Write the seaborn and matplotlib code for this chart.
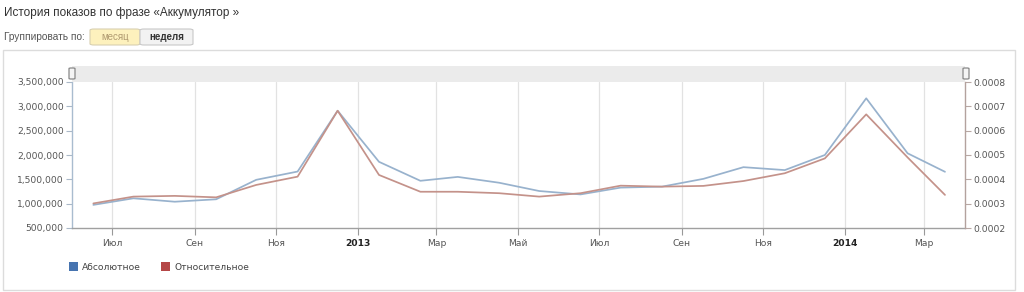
import matplotlib
matplotlib.use("Agg")
import matplotlib.pyplot as plt
import matplotlib.dates as mdates
from matplotlib.patches import Rectangle, FancyBboxPatch, Patch
from matplotlib.ticker import FuncFormatter, FixedLocator
import seaborn as sns
import pandas as pd

# ---- data ----
months = ["2012-06", "2012-07", "2012-08", "2012-09", "2012-10", "2012-11", "2012-12",
          "2013-01", "2013-02", "2013-03", "2013-04", "2013-05", "2013-06", "2013-07",
          "2013-08", "2013-09", "2013-10", "2013-11", "2013-12", "2014-01", "2014-02", "2014-03"]
absolute = [975000, 1110000, 1040000, 1090000, 1490000, 1660000, 2910000,
            1860000, 1470000, 1550000, 1430000, 1260000, 1190000, 1330000,
            1350000, 1510000, 1750000, 1690000, 2000000, 3165000, 2035000, 1655000]
relative = [0.000301, 0.000329, 0.000332, 0.000326, 0.000377, 0.000411, 0.000682,
            0.000418, 0.000349, 0.000349, 0.000343, 0.000329, 0.000343, 0.000374,
            0.000370, 0.000373, 0.000393, 0.000425, 0.000486, 0.000667, 0.000490, 0.000336]
tick_dates = ["2012-07-01", "2012-09-01", "2012-11-01", "2013-01-01", "2013-03-01", "2013-05-01",
              "2013-07-01", "2013-09-01", "2013-11-01", "2014-01-01", "2014-03-01"]
tick_labels = ["Июл", "Сен", "Ноя", "2013", "Мар", "Май", "Июл", "Сен", "Ноя", "2014", "Мар"]
left_ticks = [500000, 1000000, 1500000, 2000000, 2500000, 3000000, 3500000]
right_ticks = [0.0002, 0.0003, 0.0004, 0.0005, 0.0006, 0.0007, 0.0008]
series_names = ["Абсолютное", "Относительное"]
title = "История показов по фразе «Аккумулятор »"

sns.set_theme(style="white")
plt.rcParams["font.family"] = ["DejaVu Sans"]

df = pd.DataFrame({"date": pd.to_datetime(months) + pd.Timedelta(days=16),
                   "abs": absolute, "rel": relative})

W, H = 1024, 292
fig = plt.figure(figsize=(W / 100, H / 100), dpi=100)
fig.patch.set_facecolor("white")

def fx(px):
    return px / W

def fy(py):
    return 1 - py / H

# outer frame
fig.patches.append(Rectangle((fx(3), fy(290)), fx(1015) - fx(3), fy(50) - fy(290),
                             transform=fig.transFigure, fill=False, edgecolor="#dcdcdc", lw=1))

# header texts
fig.text(fx(4), fy(13), title, fontsize=8.5, color="#333333", va="center", ha="left",
         family=["Liberation Sans", "DejaVu Sans"])
fig.text(fx(4), fy(37), "Группировать по:", fontsize=7.3, color="#555555", va="center", ha="left",
         family=["Liberation Sans", "DejaVu Sans"])
# buttons
fig.patches.append(FancyBboxPatch((fx(90), fy(45)), fx(50), fy(29) - fy(45),
                                  boxstyle="round,pad=0,rounding_size=0.004",
                                  transform=fig.transFigure, facecolor="#fdf1bd",
                                  edgecolor="#d8d0b0", lw=0.8))
fig.patches.append(FancyBboxPatch((fx(140), fy(45)), fx(53), fy(29) - fy(45),
                                  boxstyle="round,pad=0,rounding_size=0.004",
                                  transform=fig.transFigure, facecolor="#f2f2f2",
                                  edgecolor="#c8c8c8", lw=0.8))
fig.text(fx(115), fy(37), "месяц", fontsize=7, color="#b09a70", ha="center", va="center",
         family=["Liberation Sans", "DejaVu Sans"])
fig.text(fx(166.5), fy(37), "неделя", fontsize=7, color="#333333", ha="center", va="center",
         weight="bold", family=["Liberation Sans", "DejaVu Sans"])

# navigator bar
fig.patches.append(Rectangle((fx(72), fy(82)), fx(965) - fx(72), fy(66) - fy(82),
                             transform=fig.transFigure, facecolor="#ebebeb", edgecolor="none"))
for hx in (72, 966):
    fig.patches.append(FancyBboxPatch((fx(hx - 3), fy(79)), fx(6), fy(68) - fy(79),
                                      boxstyle="round,pad=0,rounding_size=0.002",
                                      transform=fig.transFigure, facecolor="#f4f4f4",
                                      edgecolor="#888888", lw=0.9, zorder=5))

ax = fig.add_axes([fx(72), fy(228), fx(965) - fx(72), fy(82) - fy(228)])
ax2 = ax.twinx()

sns.lineplot(data=df, x="date", y="abs", ax=ax, color="#98b2cd", lw=1.25)
sns.lineplot(data=df, x="date", y="rel", ax=ax2, color="#c4928a", lw=1.25)

ax.set_xlim(pd.Timestamp("2012-06-01"), pd.Timestamp("2014-04-01"))
ax.set_ylim(left_ticks[0], left_ticks[-1])
ax2.set_ylim(right_ticks[0], right_ticks[-1])

ticks = mdates.date2num(pd.to_datetime(tick_dates))
ax.xaxis.set_major_locator(FixedLocator(ticks))
ax.set_xticklabels(tick_labels)
for lbl in ax.get_xticklabels():
    if lbl.get_text().isdigit():
        lbl.set_fontweight("bold")
        lbl.set_color("#222222")
    else:
        lbl.set_color("#555555")
ax.set_yticks(left_ticks)
ax.yaxis.set_major_formatter(FuncFormatter(lambda v, p: f"{int(v):,}"))
ax2.set_yticks(right_ticks)
ax2.yaxis.set_major_formatter(FuncFormatter(lambda v, p: f"{v:.4f}"))

ax.set_xlabel("")
ax.set_ylabel("")
ax2.set_ylabel("")
ax.grid(axis="x", color="#e2e2e2", lw=0.9)
ax.grid(axis="y", visible=False)
ax2.grid(False)

ax.tick_params(axis="x", length=5, width=0.8, color="#999999", labelsize=6.6, pad=3, direction="out",
               bottom=True)
ax.tick_params(axis="y", length=4, width=0.8, color="#aab8c8", labelsize=6.6, labelcolor="#555555",
               pad=2, left=True)
ax2.tick_params(axis="y", length=4, width=0.8, color="#b8a8a4", labelsize=6.6, labelcolor="#555555",
                pad=2, right=True)

for a in (ax, ax2):
    for s in a.spines.values():
        s.set_visible(False)
ax.spines["left"].set_visible(True)
ax.spines["left"].set_color("#a9bccf")
ax.spines["left"].set_linewidth(1.0)
ax.spines["bottom"].set_visible(True)
ax.spines["bottom"].set_color("#a0a0a0")
ax.spines["bottom"].set_linewidth(1.0)
ax2.spines["right"].set_visible(True)
ax2.spines["right"].set_color("#b3a29e")
ax2.spines["right"].set_linewidth(1.0)
ax.patch.set_alpha(0)

handles = [Patch(facecolor="#4774b0", edgecolor="none"), Patch(facecolor="#b54747", edgecolor="none")]
leg = fig.legend(handles, series_names, loc="center left", bbox_to_anchor=(fx(69), fy(267)),
                 ncol=2, frameon=False, fontsize=6.6, handlelength=0.95, handleheight=1.1,
                 handletextpad=0.5, columnspacing=2.2, borderaxespad=0, borderpad=0)
for t in leg.get_texts():
    t.set_color("#444444")

fig.savefig("out.png", dpi=100)
